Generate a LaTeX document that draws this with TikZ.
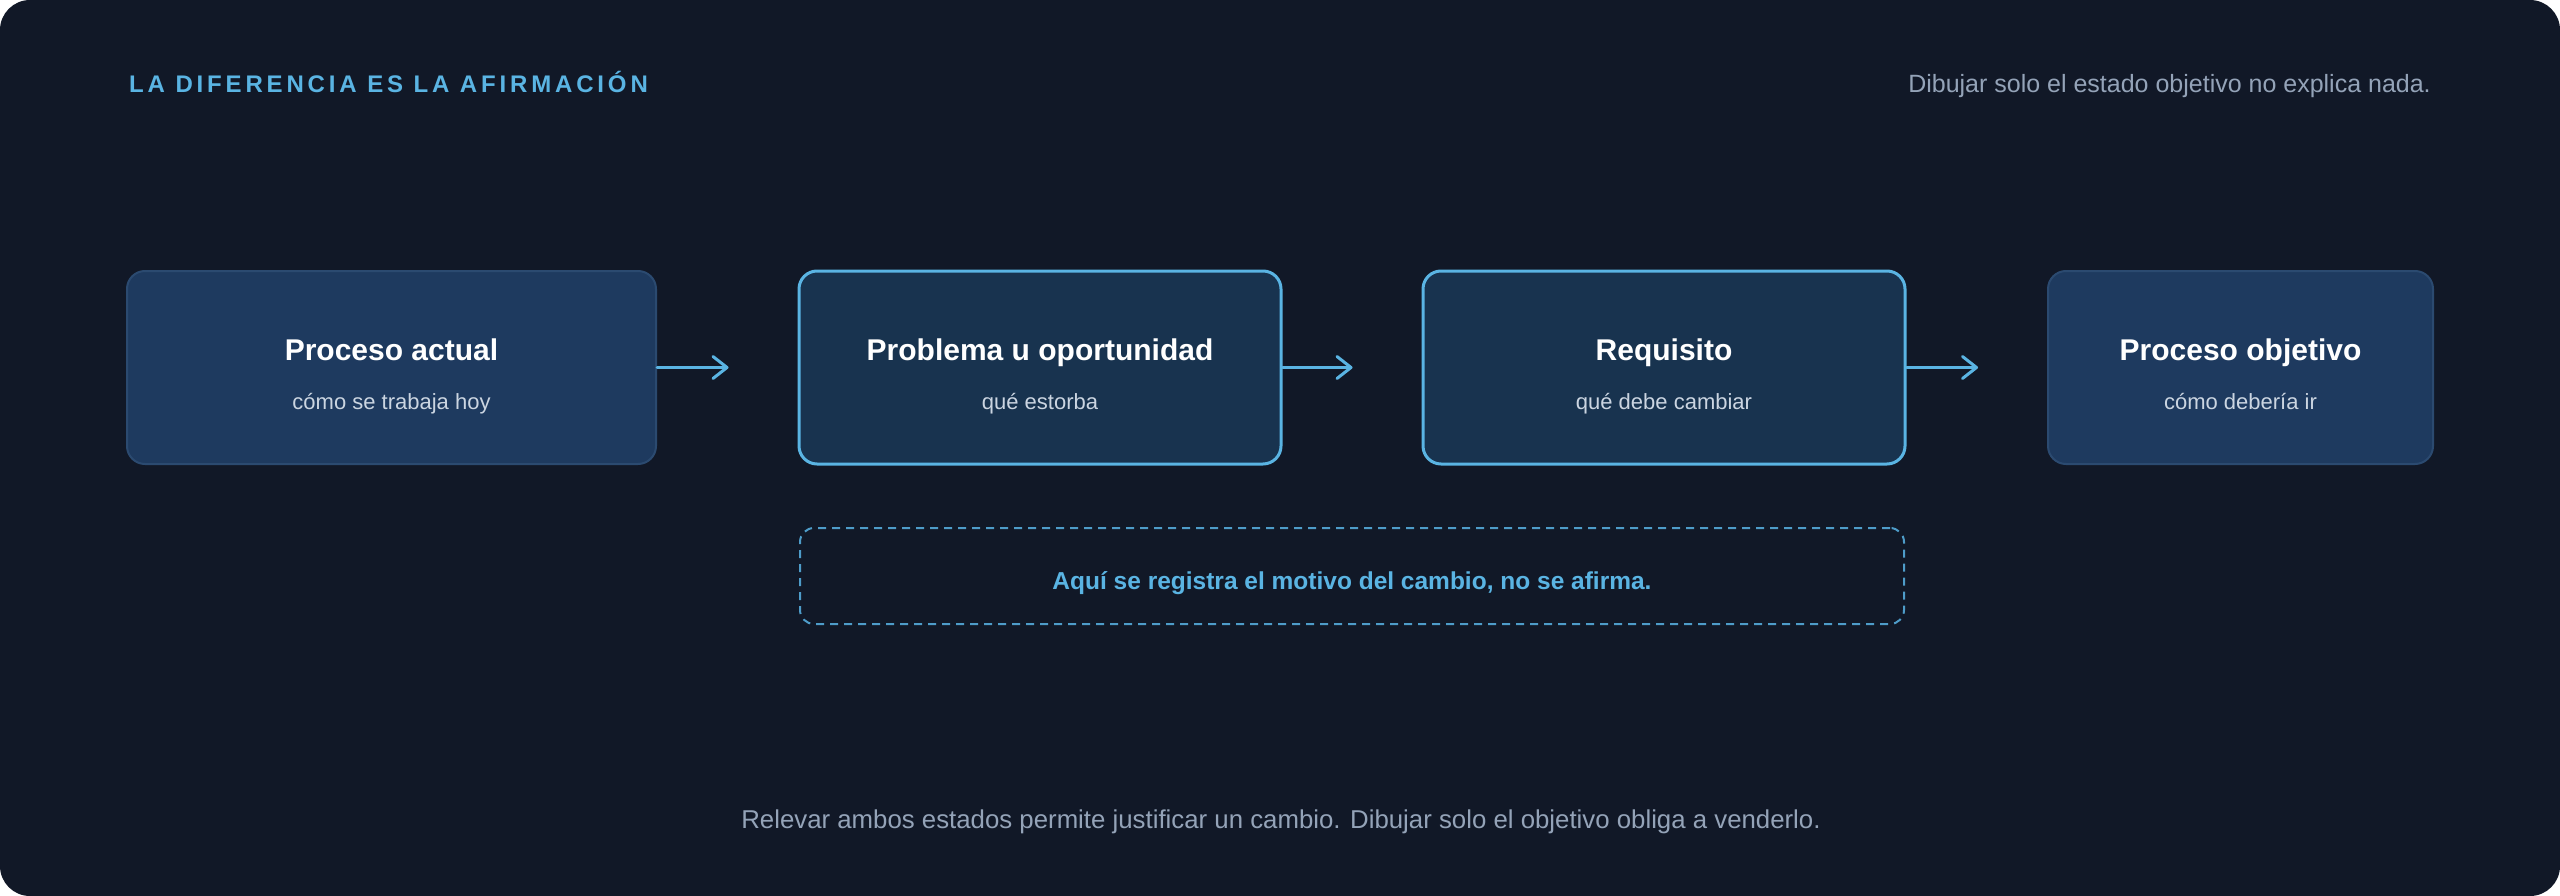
\documentclass[tikz,border=0pt]{standalone}
\usepackage{fontspec}
\setmainfont{Liberation Sans}
\newfontfamily\spacedfont[LetterSpace=16]{Liberation Sans}
\usetikzlibrary{arrows.meta}
\definecolor{bgc}{HTML}{111827}
\definecolor{boxa}{HTML}{1E3A5F}
\definecolor{boxaline}{HTML}{2B4A70}
\definecolor{boxb}{HTML}{18334F}
\definecolor{sky}{HTML}{5AB4E3}
\definecolor{skydash}{HTML}{4E9CC9}
\definecolor{graytxt}{HTML}{94A3B8}
\definecolor{subtxt}{HTML}{CBD5E1}
\tikzset{
  plainbox/.style={draw=boxaline, line width=2pt, fill=boxa, rounded corners=18pt, minimum height=193pt, inner sep=0pt},
  hotbox/.style={draw=sky, line width=3pt, fill=boxb, rounded corners=18pt, minimum height=193pt, inner sep=0pt},
  boxtitle/.style={anchor=base, text=white, font=\bfseries\fontsize{30}{36}\selectfont, inner sep=0pt},
  boxsub/.style={anchor=base, text=subtxt, font=\fontsize{22}{26}\selectfont, inner sep=0pt},
  flow/.style={draw=sky, line width=3pt, line cap=round, -{Straight Barb[length=14pt,width=22pt,line cap=round,line join=round]}},
  notebox/.style={draw=skydash, line width=2pt, dash pattern=on 8pt off 6pt, rounded corners=14pt, minimum height=96pt, minimum width=1104pt, inner sep=0pt},
}
\begin{document}
\begin{tikzpicture}[x=1pt,y=-1pt]
\useasboundingbox (0,0) rectangle (2560,896);
\fill[white] (0,0) rectangle (2560,896);
\fill[bgc, rounded corners=30pt] (0,0) rectangle (2560,896);

\node[anchor=base west, text=sky, inner sep=0pt, font=\spacedfont\bfseries\fontsize{24}{28}\selectfont] (hdr) at (129,93) {LA DIFERENCIA ES LA AFIRMACIÓN};
\node[anchor=base east, text=graytxt, inner sep=0pt, font=\fontsize{25}{30}\selectfont] (hdrr) at (2431,93) {Dibujar solo el estado objetivo no explica nada.};

\node[plainbox, minimum width=529pt] (b1) at (391.5,367.5) {};
\node[hotbox, minimum width=482pt] (b2) at (1040,367.5) {};
\node[hotbox, minimum width=482pt] (b3) at (1664,367.5) {};
\node[plainbox, minimum width=385pt] (b4) at (2240.5,367.5) {};

\node[boxtitle] (t1) at (391.5,360) {Proceso actual};
\node[boxsub] (s1) at (391.5,409) {cómo se trabaja hoy};
\node[boxtitle] (t2) at (1040,360) {Problema u oportunidad};
\node[boxsub] (s2) at (1040,409) {qué estorba};
\node[boxtitle] (t3) at (1664,360) {Requisito};
\node[boxsub] (s3) at (1664,409) {qué debe cambiar};
\node[boxtitle] (t4) at (2240.5,360) {Proceso objetivo};
\node[boxsub] (s4) at (2240.5,409) {cómo debería ir};

\draw[flow, shorten >=69pt] (b1) -- (b2);
\draw[flow, shorten >=69pt] (b2) -- (b3);
\draw[flow, shorten >=69pt] (b3) -- (b4);

\node[notebox] (note) at (1352,576) {};
\node[anchor=base, text=sky, inner sep=0pt, font=\bfseries\fontsize{24.5}{29}\selectfont] (notetxt) at (1352,589) {Aquí se registra el motivo del cambio, no se afirma.};

\node[anchor=base, text=graytxt, inner sep=0pt, font=\fontsize{25.8}{30}\selectfont] (foot) at (1281,828) {Relevar ambos estados permite justificar un cambio. Dibujar solo el objetivo obliga a venderlo.};
\end{tikzpicture}
\end{document}
